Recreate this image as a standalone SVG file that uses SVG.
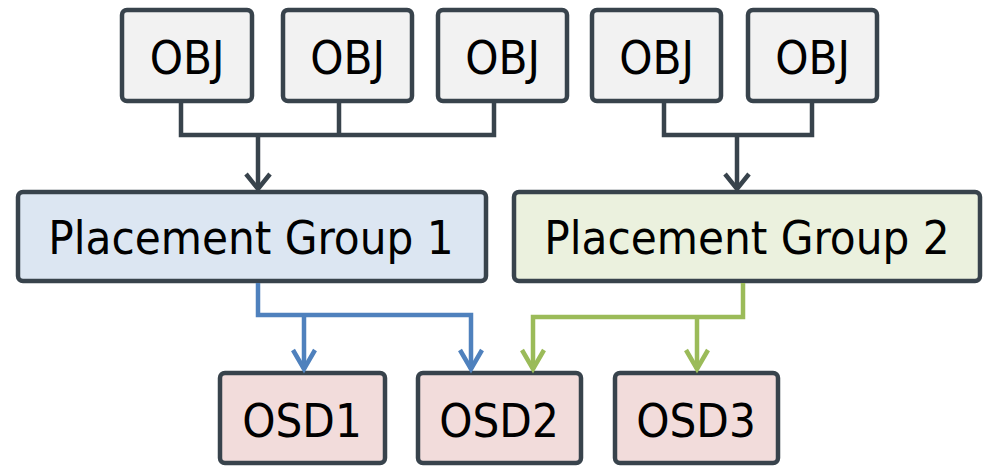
<svg xmlns="http://www.w3.org/2000/svg" width="984" height="466" viewBox="0 0 984 466">
  <style>
    .box { stroke: #38434c; stroke-width: 4.5; }
    .obj { fill: #f2f2f2; }
    .pg1 { fill: #dce6f2; }
    .pg2 { fill: #ebf1de; }
    .osd { fill: #f2dcdb; }
    .lbl { font-family: "DejaVu Sans Condensed", "DejaVu Sans", sans-serif; font-stretch: condensed; font-size: 47px; fill: #000; text-anchor: middle; }
    .wire { fill: none; stroke-width: 4.5; stroke-linejoin: miter; }
    .dark { stroke: #38434c; }
    .blue { stroke: #4f81bd; }
    .green { stroke: #9bbb59; }
  </style>

  <!-- object boxes -->
  <g id="obj1"><rect class="box obj" x="122" y="10" width="130" height="91" rx="5"/><text class="lbl" x="187" y="74">OBJ</text></g>
  <g id="obj2"><rect class="box obj" x="283" y="10" width="129" height="91" rx="5"/><text class="lbl" x="347.5" y="74">OBJ</text></g>
  <g id="obj3"><rect class="box obj" x="438" y="10" width="129" height="91" rx="5"/><text class="lbl" x="502.5" y="74">OBJ</text></g>
  <g id="obj4"><rect class="box obj" x="592" y="10" width="129" height="91" rx="5"/><text class="lbl" x="656.5" y="74">OBJ</text></g>
  <g id="obj5"><rect class="box obj" x="748" y="10" width="129" height="91" rx="5"/><text class="lbl" x="812.5" y="74">OBJ</text></g>

  <!-- placement groups -->
  <g id="pg1"><rect class="box pg1" x="18" y="192" width="468" height="89" rx="5"/><text class="lbl" x="251" y="254">Placement Group 1</text></g>
  <g id="pg2"><rect class="box pg2" x="514" y="192" width="466" height="89" rx="5"/><text class="lbl" x="747" y="254">Placement Group 2</text></g>

  <!-- OSDs -->
  <g id="osd1"><rect class="box osd" x="220" y="373" width="165" height="90" rx="5"/><text class="lbl" x="302" y="437">OSD1</text></g>
  <g id="osd2"><rect class="box osd" x="418" y="373" width="163" height="90" rx="5"/><text class="lbl" x="499" y="437">OSD2</text></g>
  <g id="osd3"><rect class="box osd" x="615" y="373" width="163" height="90" rx="5"/><text class="lbl" x="696" y="437">OSD3</text></g>

  <!-- connectors: bus lines with open chevron heads -->
  <g id="connectors">
    <path class="wire dark" d="M181,101 V135 H494 V101 M339,101 V135"/>
    <path class="wire dark" d="M258,135 V188"/>
    <path class="wire dark" d="M246,174 L258,189 L270,174"/>
    <path class="wire dark" d="M664,101 V135 H812 V101"/>
    <path class="wire dark" d="M737,135 V188"/>
    <path class="wire dark" d="M725,174 L737,189 L749,174"/>

    <path class="wire blue" d="M258,283 V315 H471 V369"/>
    <path class="wire blue" d="M304,315 V369"/>
    <path class="wire blue" d="M293,350 L304,369 L315,350"/>
    <path class="wire blue" d="M460,350 L471,369 L482,350"/>

    <path class="wire green" d="M743,283 V317 H533 V369"/>
    <path class="wire green" d="M697,317 V369"/>
    <path class="wire green" d="M522,350 L533,369 L544,350"/>
    <path class="wire green" d="M686,350 L697,369 L708,350"/>
  </g>
</svg>
